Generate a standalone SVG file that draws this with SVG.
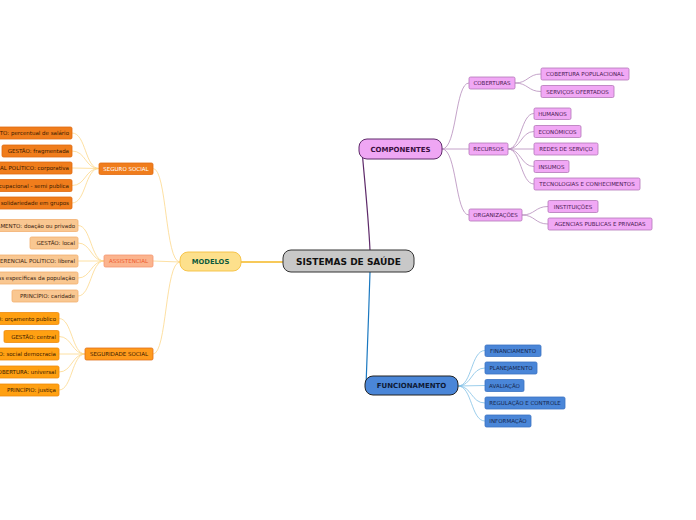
<svg xmlns="http://www.w3.org/2000/svg" width="696" height="520" viewBox="0 0 696 520">
<style>
text{font-family:"DejaVu Sans","Verdana",sans-serif;dominant-baseline:central}
.leaf{font-size:5.5px}
.main{font-size:7px;font-weight:bold}
.pk rect{fill:#f1a8f5;stroke:#b276b8;stroke-width:0.8}
.pk text{fill:#4a1a52;text-anchor:middle}
.bl rect{fill:#4a86d8;stroke:#3b72c2;stroke-width:0.8}
.bl text{fill:#16264e;text-anchor:middle}
.ss rect{fill:#f07d1c;stroke:#e06a10;stroke-width:0.8}
.ss text{fill:#3a1a00;text-anchor:end}
.as rect{fill:#f9c791;stroke:#f2b070;stroke-width:0.8}
.as text{fill:#3a2410;text-anchor:end}
.sd rect{fill:#ffa012;stroke:#ef8a0a;stroke-width:0.8}
.sd text{fill:#3a1a00;text-anchor:end}
</style>
<rect width="696" height="520" fill="#ffffff"/>
<g id="connectors" fill="none">
<path d="M283,262 L241,262" stroke="#f5b722" stroke-width="1.3"/>
<path d="M370,250 C368,210 364,175 362,150" stroke="#5e2a6a" stroke-width="1.2"/>
<path d="M370,272 C369,310 367,350 366,386" stroke="#1a78c0" stroke-width="1.2"/>
<g stroke="#b58cbb" stroke-width="0.8">
<path d="M442,149 C457,149 455,83 469,83"/>
<path d="M442,149 L469,149"/>
<path d="M442,149 C457,149 455,215 469,215"/>
<path d="M515,83 C528,83 528,74 541,74"/>
<path d="M515,83 C528,83 528,91.5 541,91.5"/>
<path d="M508,149 C521,149 521,113.5 534,113.5"/>
<path d="M508,149 C521,149 521,131.5 534,131.5"/>
<path d="M508,149 L534,149"/>
<path d="M508,149 C521,149 521,166.5 534,166.5"/>
<path d="M508,149 C521,149 521,184 534,184"/>
<path d="M522,215 C535,215 535,206.5 548,206.5"/>
<path d="M522,215 C535,215 535,224 548,224"/>
</g>
<g stroke="#82c0e6" stroke-width="0.8">
<path d="M458,386 C472,386 471,350.5 485,350.5"/>
<path d="M458,386 C472,386 471,368 485,368"/>
<path d="M458,386 L485,385.5"/>
<path d="M458,386 C472,386 471,403 485,403"/>
<path d="M458,386 C472,386 471,421 485,421"/>
</g>
<g stroke="#fcd88c" stroke-width="0.8">
<path d="M180,262 C165,262 167,168.5 153,168.5"/>
<path d="M180,262 L153,261"/>
<path d="M180,262 C165,262 167,354 153,354"/>
<path d="M99,168.5 C85,168.5 86,133 72,133"/>
<path d="M99,168.5 C85,168.5 86,151 72,151"/>
<path d="M99,168.5 L72,168"/>
<path d="M99,168.5 C85,168.5 86,185.5 72,185.5"/>
<path d="M99,168.5 C85,168.5 86,203 72,203"/>
<path d="M104,261 C91,261 91,225.5 78,225.5"/>
<path d="M104,261 C91,261 91,243 78,243"/>
<path d="M104,261 L78,261"/>
<path d="M104,261 C91,261 91,278 78,278"/>
<path d="M104,261 C91,261 91,296 78,296"/>
<path d="M85,354 C72,354 72,318.5 59,318.5"/>
<path d="M85,354 C72,354 72,336.5 59,336.5"/>
<path d="M85,354 L59,354"/>
<path d="M85,354 C72,354 72,372 59,372"/>
<path d="M85,354 C72,354 72,390 59,390"/>
</g>
</g>
<g id="root"><rect x="283" y="250" width="131" height="22" rx="8" fill="#c8c8c8" stroke="#333333" stroke-width="1"/><text x="348.5" y="261.5" font-size="9" font-weight="bold" text-anchor="middle" fill="#111">SISTEMAS DE SAÚDE</text></g>
<g id="modelos"><rect x="180" y="252" width="61" height="19" rx="8" fill="#fde08c" stroke="#f5c040" stroke-width="0.9"/><text x="210.5" y="262" font-size="6.8" font-weight="bold" text-anchor="middle" fill="#0d5a3c">MODELOS</text></g>
<g id="componentes"><rect x="359" y="139" width="83" height="20" rx="8" fill="#efa6f4" stroke="#5e2a6a" stroke-width="1"/><text x="400.5" y="149.5" class="main" text-anchor="middle" fill="#3a0e40">COMPONENTES</text></g>
<g id="funcionamento"><rect x="365" y="376" width="93" height="19" rx="8" fill="#4a86d8" stroke="#222" stroke-width="1"/><text x="411.5" y="386" class="main" text-anchor="middle" fill="#0e1a36">FUNCIONAMENTO</text></g>

<g class="pk leaf">
<g id="coberturas"><rect x="469" y="77" width="46" height="12" rx="1.5"/><text x="492" y="83">COBERTURAS</text></g>
<g id="recursos"><rect x="469" y="143" width="39" height="12" rx="1.5"/><text x="488.5" y="149">RECURSOS</text></g>
<g id="organizacoes"><rect x="469" y="209" width="53" height="12" rx="1.5"/><text x="495.5" y="215">ORGANIZAÇÕES</text></g>
<g id="cob-pop"><rect x="541" y="68" width="88" height="12" rx="1.5"/><text x="585" y="74">COBERTURA POPULACIONAL</text></g>
<g id="serv-ofert"><rect x="541" y="85.5" width="73" height="12" rx="1.5"/><text x="577.5" y="91.5">SERVIÇOS OFERTADOS</text></g>
<g id="humanos"><rect x="534" y="108" width="37" height="11.5" rx="1.5"/><text x="552.5" y="113.7">HUMANOS</text></g>
<g id="economicos"><rect x="534" y="125.5" width="47" height="12" rx="1.5"/><text x="557.5" y="131.5">ECONÔMICOS</text></g>
<g id="redes"><rect x="534" y="143" width="64" height="12" rx="1.5"/><text x="566" y="149">REDES DE SERVIÇO</text></g>
<g id="insumos"><rect x="534" y="160.5" width="35" height="12" rx="1.5"/><text x="551.5" y="166.5">INSUMOS</text></g>
<g id="tecnologias"><rect x="534" y="178" width="106" height="12" rx="1.5"/><text x="587" y="184">TECNOLOGIAS E CONHECIMENTOS</text></g>
<g id="instituicoes"><rect x="548" y="200.5" width="50" height="12" rx="1.5"/><text x="573" y="206.5">INSTITUIÇÕES</text></g>
<g id="agencias"><rect x="548" y="218" width="104" height="12" rx="1.5"/><text x="600" y="224">AGENCIAS PUBLICAS E PRIVADAS</text></g>
</g>

<g class="bl leaf">
<g id="financiamento"><rect x="485" y="345" width="56" height="11.5" rx="1.5"/><text x="513" y="350.7">FINANCIAMENTO</text></g>
<g id="planejamento"><rect x="485" y="362" width="52" height="12" rx="1.5"/><text x="511" y="368">PLANEJAMENTO</text></g>
<g id="avaliacao"><rect x="485" y="379.5" width="39" height="12" rx="1.5"/><text x="504.5" y="385.5">AVALIAÇÃO</text></g>
<g id="regulacao"><rect x="485" y="397" width="80" height="12" rx="1.5"/><text x="525" y="403">REGULAÇÃO E CONTROLE</text></g>
<g id="informacao"><rect x="485" y="415" width="46" height="12" rx="1.5"/><text x="508" y="421">INFORMAÇÃO</text></g>
</g>

<g id="seguro-social"><rect x="99" y="163" width="54" height="11.5" rx="1.5" fill="#f07d1c" stroke="#e06a10" stroke-width="0.8"/><text x="126" y="168.8" class="leaf" text-anchor="middle" fill="#ffffff">SEGURO SOCIAL</text></g>
<g id="assistencial"><rect x="104" y="255" width="49" height="12" rx="1.5" fill="#fbb48e" stroke="#f59670" stroke-width="0.8"/><text x="128.5" y="261" class="leaf" text-anchor="middle" fill="#ee5a2c">ASSISTENCIAL</text></g>
<g id="seguridade-social"><rect x="85" y="348" width="68" height="12" rx="1.5" fill="#ff9a1c" stroke="#e0701a" stroke-width="0.8"/><text x="119" y="354" class="leaf" text-anchor="middle" fill="#3a1a00">SEGURIDADE SOCIAL</text></g>

<g class="ss leaf">
<g id="ss-fin"><rect x="-60" y="127" width="132" height="12" rx="1.5"/><text x="69" y="133">FINANCIAMENTO: percentual de salário</text></g>
<g id="ss-gest"><rect x="2" y="145" width="70" height="12" rx="1.5"/><text x="69" y="151">GESTÃO: fragmentada</text></g>
<g id="ss-ref"><rect x="-60" y="162" width="132" height="12" rx="1.5"/><text x="69" y="168">REFERENCIAL POLÍTICO: corporativa</text></g>
<g id="ss-cob"><rect x="-60" y="179.5" width="132" height="12" rx="1.5"/><text x="69" y="185.5">COBERTURA: ocupacional - semi publica</text></g>
<g id="ss-pri"><rect x="-60" y="197" width="132" height="12" rx="1.5"/><text x="69" y="203">PRINCÍPIO: solidariedade em grupos</text></g>
</g>

<g class="as leaf">
<g id="as-fin"><rect x="-60" y="219.5" width="138" height="12" rx="1.5"/><text x="75" y="225.5">FINANCIAMENTO: doação ou privado</text></g>
<g id="as-gest"><rect x="30" y="237" width="48" height="12" rx="1.5"/><text x="75" y="243">GESTÃO: local</text></g>
<g id="as-ref"><rect x="-60" y="255" width="138" height="12" rx="1.5"/><text x="75" y="261">REFERENCIAL POLÍTICO: liberal</text></g>
<g id="as-cob"><rect x="-60" y="272" width="138" height="12" rx="1.5"/><text x="75" y="278">COBERTURA: parcelas especificas da população</text></g>
<g id="as-pri"><rect x="12" y="290" width="66" height="12" rx="1.5"/><text x="75" y="296">PRINCÍPIO: caridade</text></g>
</g>

<g class="sd leaf">
<g id="sd-fin"><rect x="-60" y="312.5" width="119" height="12" rx="1.5"/><text x="56" y="318.5">FINANCIAMENTO: orçamento publico</text></g>
<g id="sd-gest"><rect x="4" y="330.5" width="55" height="12" rx="1.5"/><text x="56" y="336.5">GESTÃO: central</text></g>
<g id="sd-ref"><rect x="-60" y="348" width="119" height="12" rx="1.5"/><text x="56" y="354">REFERENCIAL POLÍTICO: social democracia</text></g>
<g id="sd-cob"><rect x="-60" y="366" width="119" height="12" rx="1.5"/><text x="56" y="372">COBERTURA: universal</text></g>
<g id="sd-pri"><rect x="-2" y="384" width="61" height="12" rx="1.5"/><text x="56" y="390">PRINCÍPIO: justiça</text></g>
</g>
</svg>
